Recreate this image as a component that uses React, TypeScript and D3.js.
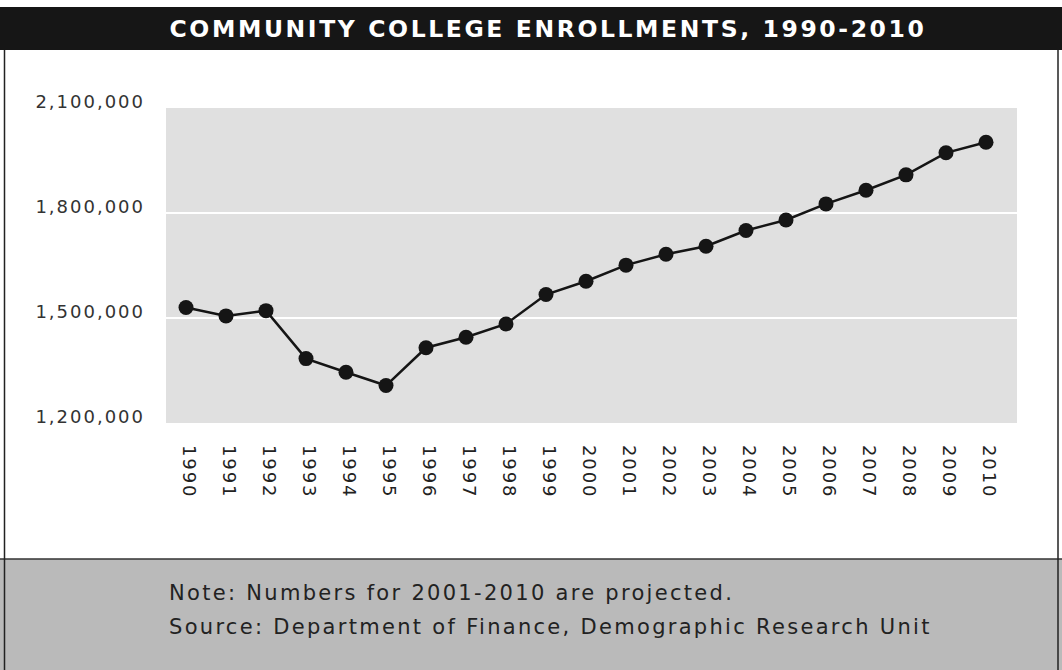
import React from "react";
import * as d3 from "d3";

const years: number[] = [1990,1991,1992,1993,1994,1995,1996,1997,1998,1999,2000,2001,2002,2003,2004,2005,2006,2007,2008,2009,2010];
const enrollments: number[] = [1530000,1506000,1521000,1384000,1345000,1307000,1415000,1445000,1483000,1567000,1605000,1651000,1682000,1705000,1750000,1780000,1826000,1865000,1909000,1972000,2002000];
const yTicks: number[] = [1200000,1500000,1800000,2100000];
const title = "COMMUNITY COLLEGE ENROLLMENTS, 1990-2010";
const notes: string[] = ["Note: Numbers for 2001-2010 are projected.", "Source: Department of Finance, Demographic Research Unit"];

const W = 1062, H = 670;
const plot = { left: 166, right: 1017, top: 108, bottom: 423 };

export default function App() {
  const x = d3.scaleLinear().domain([1990, 2010]).range([186, 986]);
  const y = d3.scaleLinear().domain([1200000, 2100000]).range([plot.bottom, plot.top]);
  const line = d3.line<number>().x((_, i) => x(years[i])).y((d) => y(d));
  const fmt = d3.format(",");
  const font = "'DejaVu Sans', Verdana, sans-serif";
  return (
    <div style={{ position: "fixed", left: 0, top: 0 }}>
      <svg width={W} height={H} style={{ display: "block" }}>
        <rect x={0} y={0} width={W} height={H} fill="#fff" />
        <rect x={0} y={7} width={W} height={43} fill="#161616" />
        <text x={548} y={29} fill="#fff" fontFamily={font} fontWeight="bold" fontSize={23.5} letterSpacing={2.6} textAnchor="middle" dominantBaseline="central">{title}</text>
        <rect x={0} y={559} width={W} height={H - 559} fill="#bababa" />
        <line x1={0} x2={W} y1={559} y2={559} stroke="#333" strokeWidth={1.5} />
        <line x1={4.5} x2={4.5} y1={50} y2={H} stroke="#222" strokeWidth={1.5} />
        <line x1={1058} x2={1058} y1={50} y2={H} stroke="#222" strokeWidth={1.5} />
        <rect x={plot.left} y={plot.top} width={plot.right - plot.left} height={plot.bottom - plot.top} fill="#e0e0e0" />
        {yTicks.filter((t) => t !== 1200000 && t !== 2100000).map((t) => (
          <line key={t} x1={plot.left} x2={plot.right} y1={y(t)} y2={y(t)} stroke="#fff" strokeWidth={2} />
        ))}
        {yTicks.map((t) => (
          <text key={t} x={145} y={y(t)} fill="#333" fontFamily={font} fontSize={18} letterSpacing={2} textAnchor="end">{fmt(t)}</text>
        ))}
        {years.map((yr) => (
          <text key={yr} transform={`translate(${x(yr) + 3.5},445) rotate(90)`} fill="#222" fontFamily={font} fontSize={18} letterSpacing={1.9} dominantBaseline="central">{yr}</text>
        ))}
        <path d={line(enrollments) || ""} fill="none" stroke="#151515" strokeWidth={2.5} />
        {enrollments.map((v, i) => (
          <circle key={i} cx={x(years[i])} cy={y(v)} r={7.5} fill="#151515" />
        ))}
        {notes.map((n, i) => (
          <text key={i} x={169} y={600 + i * 34} fill="#222" fontFamily={font} fontSize={21} letterSpacing={2.3}>{n}</text>
        ))}
      </svg>
    </div>
  );
}
